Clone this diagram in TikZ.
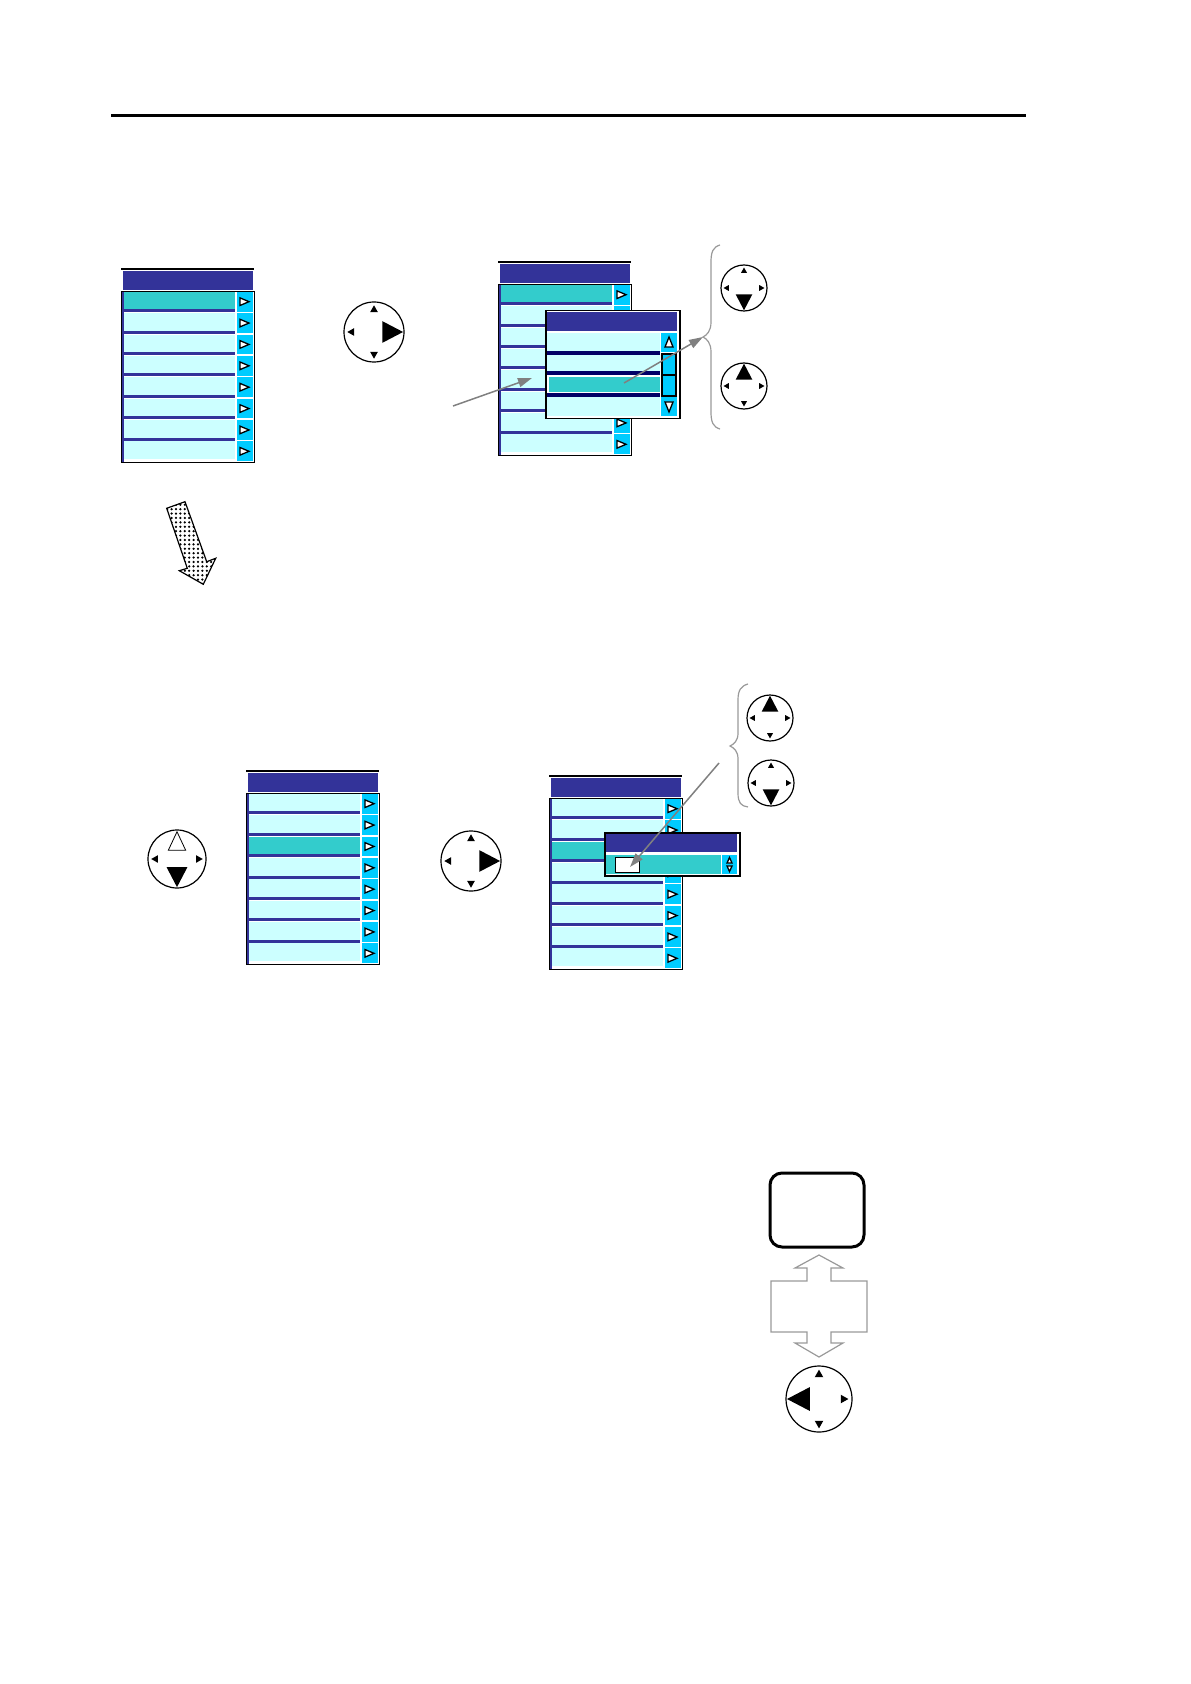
\documentclass[tikz,border=0pt]{standalone}
\usetikzlibrary{patterns,arrows.meta}
\definecolor{mnavy}{HTML}{333399}
\definecolor{dnavy}{HTML}{000066}
\definecolor{lcyan}{HTML}{CCFFFF}
\definecolor{hlteal}{HTML}{33CCCC}
\definecolor{colcyan}{HTML}{00CCFF}
\definecolor{agray}{HTML}{808080}
\definecolor{bgray}{HTML}{999999}
\pgfdeclarepatternformonly{densedots}{\pgfqpoint{-1pt}{-1pt}}{\pgfqpoint{1.2pt}{1.2pt}}{\pgfqpoint{2.2pt}{2.2pt}}{\pgfpathcircle{\pgfqpoint{0pt}{0pt}}{0.62pt}\pgfusepath{fill}}
\tikzset{
  padring/.style={circle, draw, line width=0.6pt, inner sep=0pt, fill=white},
  garrow/.style={draw=agray, line width=0.75pt, -{Triangle[length=7pt,width=4.5pt]}},
  gbrace/.style={draw=bgray, line width=0.6pt},
  wtri/.style={draw, fill=white, line width=0.65pt, line join=miter},
}
\newcommand\mainmenu[4]{%
\begin{scope}[shift={(#2,#3)}]
 \draw[line width=0.6pt] (0,0) -- (133,0);
 \fill[mnavy] (1.5,2) rectangle (131.5,21);
 \fill[white] (0,22) rectangle (133,193);
 \fill[mnavy] (0.5,22) rectangle (2.5,193);
 \foreach \i in {1,...,8}{%
   \pgfmathsetmacro\ya{22+(\i-1)*21.375}%
   \pgfmathsetmacro\yb{\ya+21.375}%
   \pgfmathsetmacro\ym{(\ya+\yb)/2}%
   \ifnum\i=#4 \def\rc{hlteal}\else\def\rc{lcyan}\fi
   \fill[\rc] ({2.5},{\ya+0.8}) rectangle ({114},{\yb-3});
   \ifnum\i<8 \fill[mnavy] ({1},{\yb-3}) rectangle ({114},{\yb});\fi
   \fill[colcyan] ({115.5},{\ya+0.8}) rectangle ({131.5},{\yb-0.8});
   \draw[wtri] ({119},{\ym-3.8}) -- ({128},{\ym}) -- ({119},{\ym+3.8}) -- cycle;
 }
 \node[draw, line width=0.6pt, inner sep=0pt, minimum width=66.5pt, minimum height=85.5pt, anchor=north west] (#1) at (0,22) {};
\end{scope}}
\newcommand\dpad[6]{%
 \node[padring, minimum size=#4pt] (#1) at (#2,#3) {};
 \begin{scope}[shift={(#2,#3)}]
  \foreach \a in {0,90,180,270}{%
    \ifnum\a=#5\relax\else\ifnum\a=#6\relax\else
      \fill[rotate=\a] ({0.66*#4},{-0.13*#4}) -- ({0.89*#4},0) -- ({0.66*#4},{0.13*#4}) -- cycle;
    \fi\fi}
  \fill[rotate=#5] ({0.28*#4},{-0.36*#4}) -- ({0.97*#4},0) -- ({0.28*#4},{0.36*#4}) -- cycle;
  \ifnum#6<900 \draw[fill=white,line width=0.4pt,rotate=#6] ({0.3*#4},{-0.3*#4}) -- ({0.94*#4},0) -- ({0.3*#4},{0.3*#4}) -- cycle;\fi
 \end{scope}}
\begin{document}
\begin{tikzpicture}[x=0.5pt,y=-0.5pt]
\path[use as bounding box] (0,0) rectangle (1190,1684);
% top rule
\coordinate (ruleL) at (111,116);
\coordinate (ruleR) at (1026,116);
\draw[line width=1.5pt] (ruleL) -- (ruleR);

% ---------- first row ----------
\mainmenu{m1}{121}{269}{1}
\dpad{p1}{374}{332}{30}{0}{999}
\mainmenu{m2}{498}{262}{1}

% submenu S1
\fill[white] (545,310) rectangle (679,418);
\fill[mnavy] (547,312) rectangle (677,331);
\fill[dnavy] (547,351) rectangle (660,355);
\fill[dnavy] (547,371) rectangle (660,375);
\fill[dnavy] (547,393) rectangle (660,397);
\fill[lcyan] (547,333) rectangle (660,351);
\fill[lcyan] (547,355) rectangle (660,371);
\fill[hlteal] (549,377) rectangle (660,392);
\fill[lcyan] (547,397) rectangle (660,416);
\fill[colcyan] (661,333) rectangle (677,352);
\fill[colcyan] (661,397) rectangle (677,416);
\draw[fill=colcyan, line width=1pt] (662,354) rectangle (676,396);
\draw[line width=1pt] (662,375) -- (676,375);
\draw[wtri] (665,347) -- (669,337) -- (673,347) -- cycle;
\draw[wtri] (665,402) -- (669,412) -- (673,402) -- cycle;
\node[draw, line width=0.75pt, inner sep=0pt, minimum width=67pt, minimum height=54pt, anchor=north west] (s1) at (545,310) {};

% brace 1
\coordinate (b1tip) at (703,337);
\draw[gbrace] (720,245) .. controls (713,247) and (711,252) .. (711,262) -- (711,322)
  .. controls (711,331) and (707,335) .. (b1tip)
  .. controls (707,339) and (711,343) .. (711,352) -- (711,412)
  .. controls (711,422) and (713,427) .. (720,429);
\dpad{p2}{744}{288}{23}{270}{999}
\dpad{p3}{744}{386}{23}{90}{999}

% gray arrows first row
\coordinate (a1from) at (453,406);
\coordinate (a1to) at (532,378);
\coordinate (a2from) at (624,383);
\draw[garrow] (a1from) -- (a1to);
\draw[garrow] (a2from) -- (b1tip);

% dotted block arrow
\draw[pattern=densedots, line width=0.6pt, line join=miter] (166.7,508.3) -- (185,501.7) -- (206.7,561.7) -- (215.7,558.3)
  -- (203.3,584.3) -- (179.3,570.7) -- (187.3,568.3) -- cycle;

% ---------- second row ----------
\dpad{p4}{177}{859}{29}{270}{90}
\mainmenu{m3}{246}{771}{3}
\dpad{p5}{471}{861}{30}{0}{999}
\mainmenu{m4}{549}{776}{3}

% popup S2
\fill[white] (604,832) rectangle (739,875);
\fill[mnavy] (606,834) rectangle (737,852);
\fill[hlteal] (606,855) rectangle (721,874);
\fill[colcyan] (722,855) rectangle (737,874);
\draw[wtri] (727,863) -- (729.5,857.5) -- (732,863) -- cycle;
\draw[wtri] (727,866) -- (729.5,871.5) -- (732,866) -- cycle;
\node[draw, fill=white, line width=0.6pt, inner sep=0pt, minimum width=12pt, minimum height=7.5pt, anchor=north west] (field) at (615,857) {};
\node[draw, line width=0.75pt, inner sep=0pt, minimum width=67.5pt, minimum height=21.5pt, anchor=north west] (s2) at (604,832) {};

% brace 2
\coordinate (b2tip) at (730,746);
\draw[gbrace] (748,684) .. controls (741,686) and (738,690) .. (738,700) -- (738,733)
  .. controls (738,741) and (734,744) .. (b2tip)
  .. controls (734,748) and (738,751) .. (738,759) -- (738,793)
  .. controls (738,803) and (741,806) .. (748,807);
\dpad{p6}{770}{718}{23}{90}{999}
\dpad{p7}{771}{783}{23}{270}{999}

\coordinate (a3from) at (719,763);
\coordinate (a3to) at (630,867);
\draw[garrow] (a3from) -- (a3to);

% ---------- bottom ----------
\node[draw, line width=1.5pt, rounded corners=6pt, inner sep=0pt, minimum width=47pt, minimum height=37pt] (scr) at (817,1210) {};
\draw[draw=bgray, line width=0.6pt, line join=miter] (819,1255) -- (843,1268) -- (831,1268) -- (831,1281) -- (867,1281)
  -- (867,1332) -- (831,1332) -- (831,1343) -- (843,1343) -- (819,1357) -- (795,1343) -- (807,1343)
  -- (807,1332) -- (771,1332) -- (771,1281) -- (807,1281) -- (807,1268) -- (795,1268) -- cycle;
\dpad{p8}{819}{1399}{33}{180}{999}
\end{tikzpicture}
\end{document}
